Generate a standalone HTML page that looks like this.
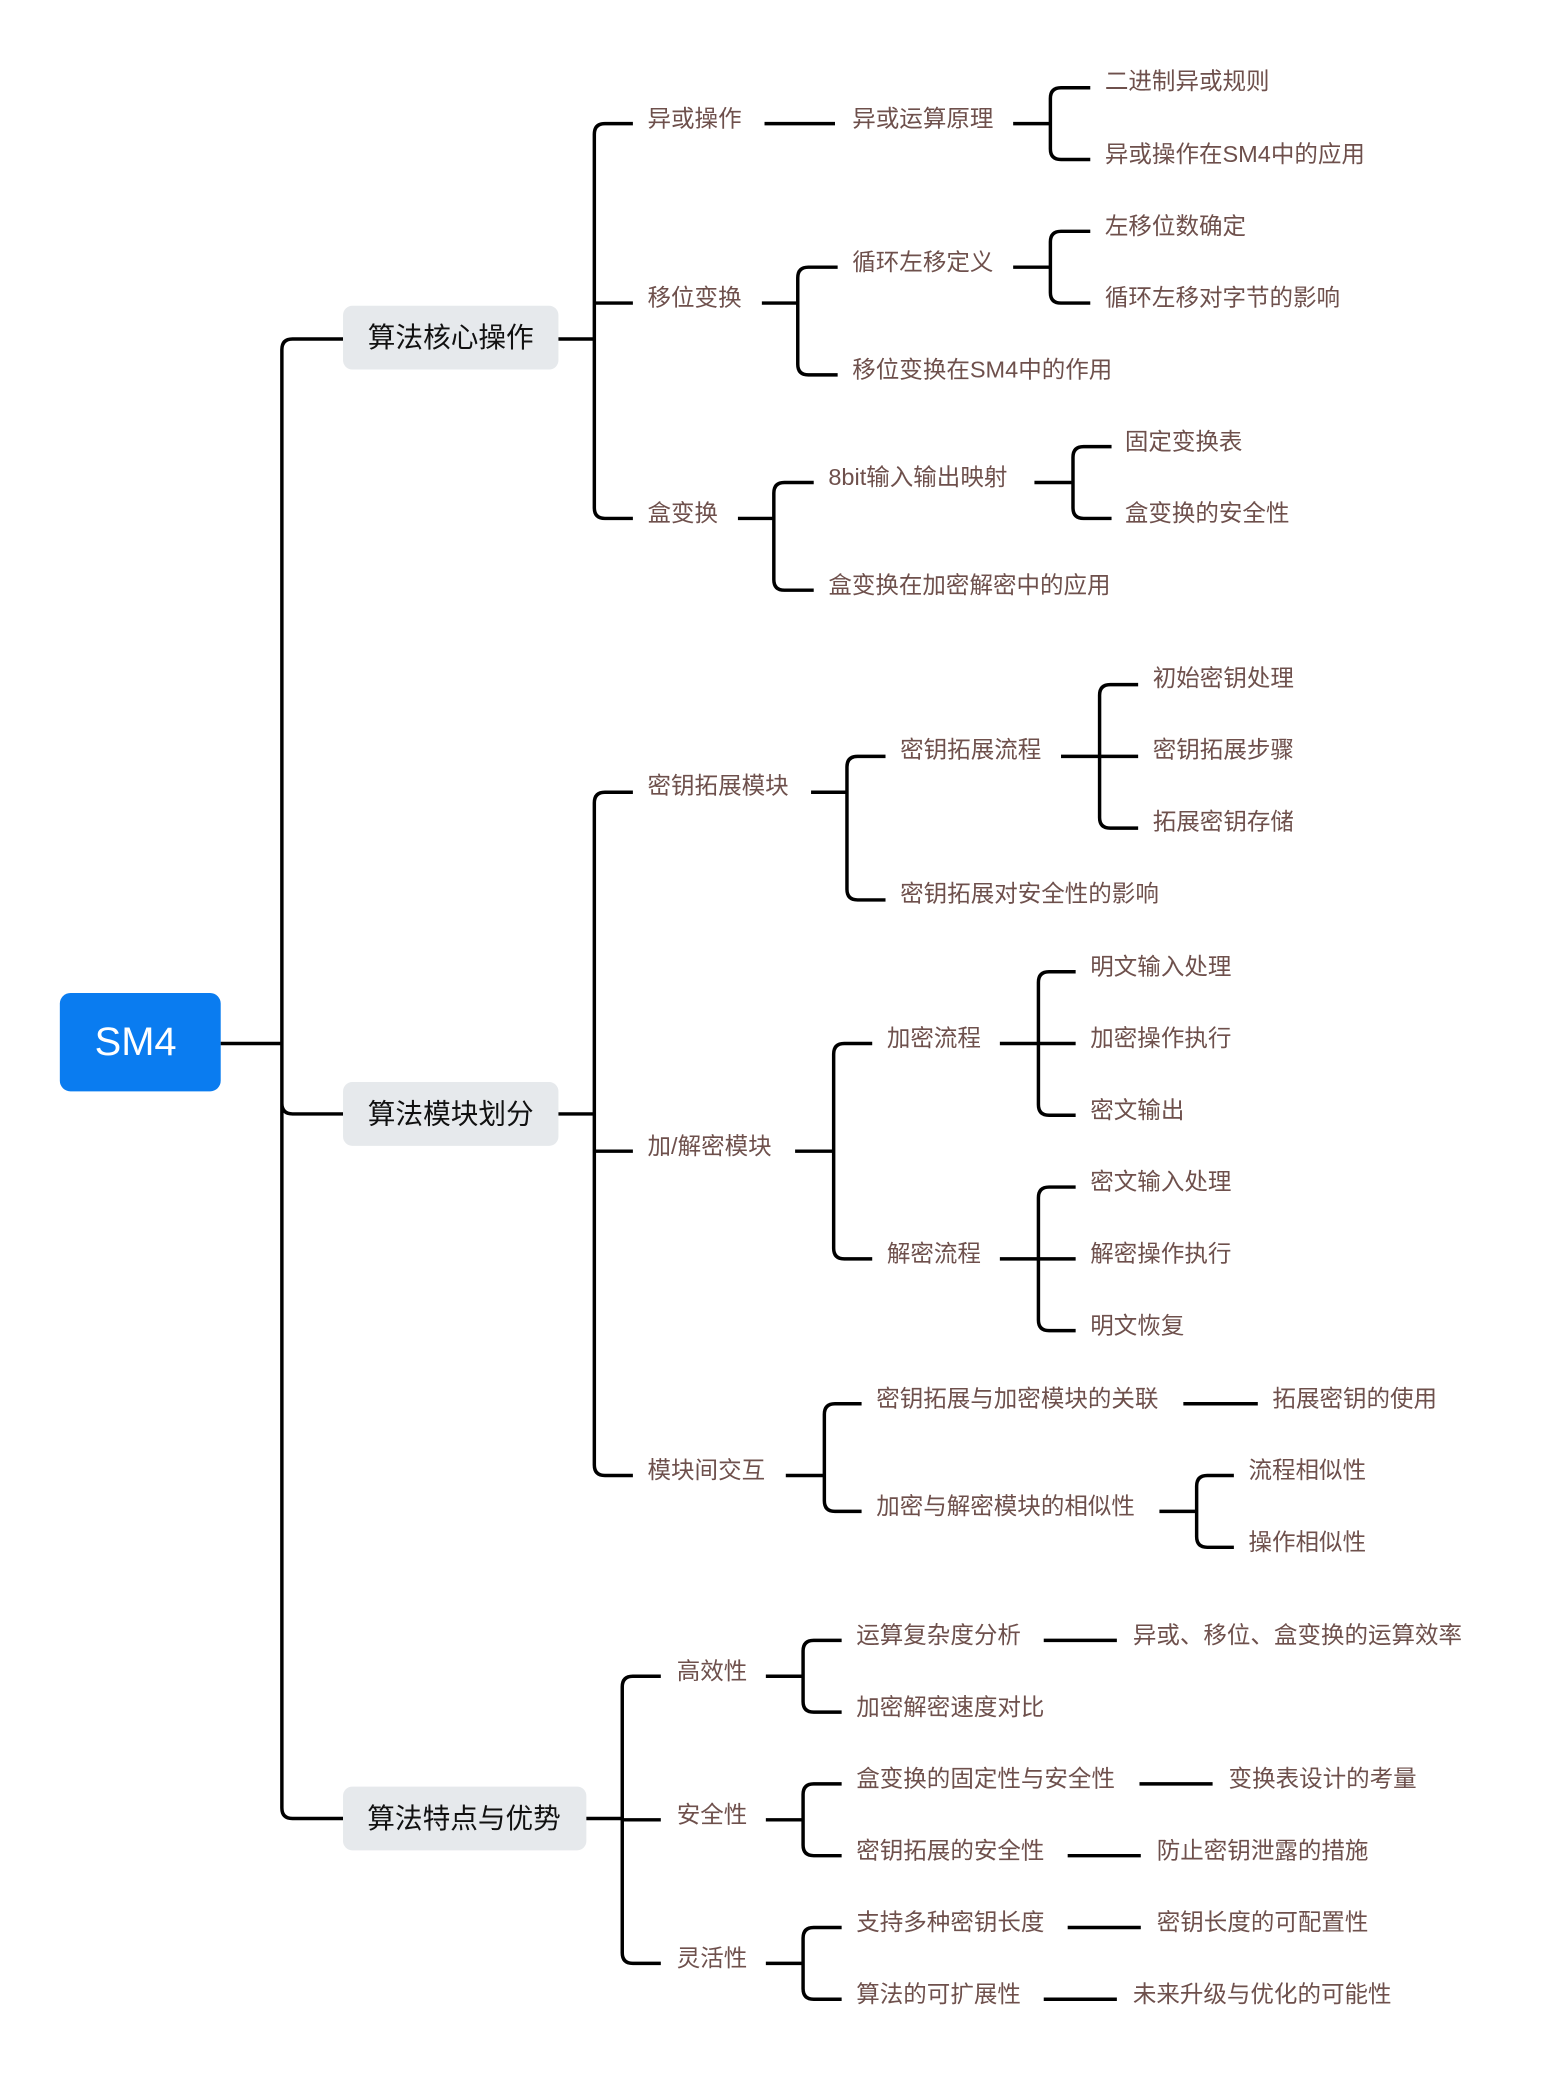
<!DOCTYPE html>
<html><head><meta charset="utf-8"><style>
html,body{margin:0;padding:0;background:#fff;}
svg{display:block}
text{font-family:"Liberation Sans","Noto Sans CJK SC",sans-serif;}
.t{fill:#6e504c;font-size:17.7px;dominant-baseline:central}
.m{fill:#111;font-size:20.8px;dominant-baseline:central;text-anchor:middle}
path,line{stroke:#000;stroke-width:2.6;fill:none}
</style></head><body>
<svg width="1545" height="2083" viewBox="0 0 1162 1567" preserveAspectRatio="none">
<!-- root -->
<rect x="45" y="747" width="121" height="74" rx="8" fill="#0a7cf0"/>
<text x="102" y="784" fill="#fff" font-size="30" text-anchor="middle" dominant-baseline="central">SM4</text>
<line x1="166" y1="785" x2="212" y2="785"/>
<path d="M258,255 H220 Q212,255 212,263 V1360 Q212,1368 220,1368 H258 M212,830 Q212,838 220,838 H258"/>
<rect x="258" y="230" width="162" height="48" rx="7" fill="#e6e9ec"/>
<text class="m" x="339" y="254">算法核心操作</text>
<rect x="258" y="814" width="162" height="48" rx="7" fill="#e6e9ec"/>
<text class="m" x="339" y="838">算法模块划分</text>
<rect x="258" y="1344" width="183" height="48" rx="7" fill="#e6e9ec"/>
<text class="m" x="349" y="1368">算法特点与优势</text>

<!-- group 1 -->
<line x1="420" y1="255" x2="447" y2="255"/>
<path d="M476,93 H455 Q447,93 447,101 V382 Q447,390 455,390 H476 M447,228 H476"/>
<text class="t" x="487" y="89">异或操作</text>
<line x1="575" y1="93" x2="628" y2="93"/>
<text class="t" x="641" y="89">异或运算原理</text>
<line x1="762" y1="93" x2="790" y2="93"/>
<path d="M820,66 H798 Q790,66 790,74 V112 Q790,120 798,120 H820"/>
<text class="t" x="831" y="61">二进制异或规则</text>
<text class="t" x="831" y="116">异或操作在SM4中的应用</text>

<text class="t" x="487" y="224">移位变换</text>
<line x1="573" y1="228" x2="600" y2="228"/>
<path d="M630,201 H608 Q600,201 600,209 V274 Q600,282 608,282 H630"/>
<text class="t" x="641" y="197">循环左移定义</text>
<text class="t" x="641" y="278">移位变换在SM4中的作用</text>
<line x1="762" y1="201" x2="790" y2="201"/>
<path d="M820,174 H798 Q790,174 790,182 V220 Q790,228 798,228 H820"/>
<text class="t" x="831" y="170">左移位数确定</text>
<text class="t" x="831" y="224">循环左移对字节的影响</text>

<text class="t" x="487" y="386">盒变换</text>
<line x1="555" y1="390" x2="582" y2="390"/>
<path d="M612,363 H590 Q582,363 582,371 V436 Q582,444 590,444 H612"/>
<text class="t" x="623" y="359">8bit输入输出映射</text>
<text class="t" x="623" y="440">盒变换在加密解密中的应用</text>
<line x1="778" y1="363" x2="807" y2="363"/>
<path d="M836,336 H815 Q807,336 807,344 V382 Q807,390 815,390 H836"/>
<text class="t" x="846" y="332">固定变换表</text>
<text class="t" x="846" y="386">盒变换的安全性</text>

<!-- group 2 -->
<line x1="420" y1="838" x2="447" y2="838"/>
<path d="M476,596 H455 Q447,596 447,604 V1102 Q447,1110 455,1110 H476 M447,866 H476"/>
<text class="t" x="487" y="591">密钥拓展模块</text>
<line x1="610" y1="596" x2="637" y2="596"/>
<path d="M666,569 H645 Q637,569 637,577 V669 Q637,677 645,677 H666"/>
<text class="t" x="677" y="564">密钥拓展流程</text>
<text class="t" x="677" y="672">密钥拓展对安全性的影响</text>
<line x1="798" y1="569" x2="856" y2="569"/>
<path d="M856,515 H835 Q827,515 827,523 V615 Q827,623 835,623 H856"/>
<text class="t" x="867" y="510">初始密钥处理</text>
<text class="t" x="867" y="564">密钥拓展步骤</text>
<text class="t" x="867" y="618">拓展密钥存储</text>

<text class="t" x="487" y="862">加/解密模块</text>
<line x1="598" y1="866" x2="627" y2="866"/>
<path d="M656,785 H635 Q627,785 627,793 V939 Q627,947 635,947 H656"/>
<text class="t" x="667" y="781">加密流程</text>
<text class="t" x="667" y="943">解密流程</text>
<line x1="752" y1="785" x2="809" y2="785"/>
<path d="M809,731 H789 Q781,731 781,739 V831 Q781,839 789,839 H809"/>
<text class="t" x="820" y="727">明文输入处理</text>
<text class="t" x="820" y="781">加密操作执行</text>
<text class="t" x="820" y="835">密文输出</text>
<line x1="752" y1="947" x2="809" y2="947"/>
<path d="M809,893 H789 Q781,893 781,901 V993 Q781,1001 789,1001 H809"/>
<text class="t" x="820" y="889">密文输入处理</text>
<text class="t" x="820" y="943">解密操作执行</text>
<text class="t" x="820" y="997">明文恢复</text>

<text class="t" x="487" y="1106">模块间交互</text>
<line x1="591" y1="1110" x2="620" y2="1110"/>
<path d="M648,1056 H628 Q620,1056 620,1064 V1129 Q620,1137 628,1137 H648"/>
<text class="t" x="659" y="1052">密钥拓展与加密模块的关联</text>
<text class="t" x="659" y="1133">加密与解密模块的相似性</text>
<line x1="890" y1="1056" x2="946" y2="1056"/>
<text class="t" x="957" y="1052">拓展密钥的使用</text>
<line x1="872" y1="1137" x2="900" y2="1137"/>
<path d="M928,1110 H908 Q900,1110 900,1118 V1156 Q900,1164 908,1164 H928"/>
<text class="t" x="939" y="1106">流程相似性</text>
<text class="t" x="939" y="1160">操作相似性</text>

<!-- group 3 -->
<line x1="441" y1="1368" x2="468" y2="1368"/>
<path d="M497,1261 H476 Q468,1261 468,1269 V1469 Q468,1477 476,1477 H497 M468,1369 H497"/>
<text class="t" x="509" y="1257">高效性</text>
<line x1="576" y1="1261" x2="604" y2="1261"/>
<path d="M633,1234 H612 Q604,1234 604,1242 V1280 Q604,1288 612,1288 H633"/>
<text class="t" x="644" y="1230">运算复杂度分析</text>
<text class="t" x="644" y="1284">加密解密速度对比</text>
<line x1="785" y1="1234" x2="840" y2="1234"/>
<text class="t" x="852" y="1230">异或、移位、盒变换的运算效率</text>

<text class="t" x="509" y="1365">安全性</text>
<line x1="576" y1="1369" x2="604" y2="1369"/>
<path d="M633,1342 H612 Q604,1342 604,1350 V1388 Q604,1396 612,1396 H633"/>
<text class="t" x="644" y="1338">盒变换的固定性与安全性</text>
<text class="t" x="644" y="1392">密钥拓展的安全性</text>
<line x1="857" y1="1342" x2="912" y2="1342"/>
<text class="t" x="924" y="1338">变换表设计的考量</text>
<line x1="803" y1="1396" x2="858" y2="1396"/>
<text class="t" x="870" y="1392">防止密钥泄露的措施</text>

<text class="t" x="509" y="1473">灵活性</text>
<line x1="576" y1="1477" x2="604" y2="1477"/>
<path d="M633,1450 H612 Q604,1450 604,1458 V1496 Q604,1504 612,1504 H633"/>
<text class="t" x="644" y="1446">支持多种密钥长度</text>
<text class="t" x="644" y="1500">算法的可扩展性</text>
<line x1="803" y1="1450" x2="858" y2="1450"/>
<text class="t" x="870" y="1446">密钥长度的可配置性</text>
<line x1="785" y1="1504" x2="840" y2="1504"/>
<text class="t" x="852" y="1500">未来升级与优化的可能性</text>
</svg>
</body></html>
